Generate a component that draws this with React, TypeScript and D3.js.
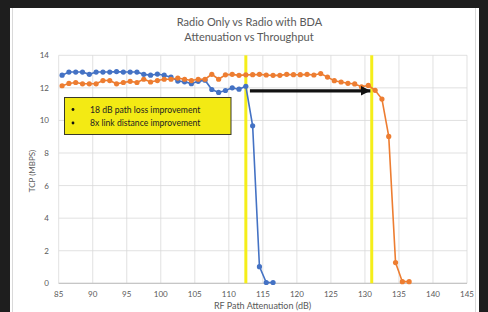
import React, { useEffect, useRef } from 'react';
import * as d3 from 'd3';

// attenuation steps (dB) used by both runs
const attenuation = [
  85.5, 86.5, 87.5, 88.5, 89.5, 90.5, 91.5, 92.5, 93.5, 94.5, 95.5, 96.5, 97.5,
  98.5, 99.5, 100.5, 101.5, 102.5, 103.5, 104.5, 105.5, 106.5, 107.5, 108.5,
  109.5, 110.5, 111.5, 112.5, 113.5, 114.5, 115.5, 116.5, 117.5, 118.5, 119.5,
  120.5, 121.5, 122.5, 123.5, 124.5, 125.5, 126.5, 127.5, 128.5, 129.5, 130.5,
  131.5, 132.5, 133.5, 134.5, 135.5, 136.5,
];

const radioOnly = [
  12.78, 12.97, 12.97, 12.97, 12.83, 12.97, 12.97, 12.97, 13.0, 12.97, 12.97,
  12.97, 12.83, 12.78, 12.85, 12.78, 12.66, 12.42, 12.37, 12.26, 12.4, 12.47,
  11.9, 11.72, 11.84, 12.0, 11.92, 12.1, 9.67, 1.02, 0.05, 0.05,
];

const radioWithBda = [
  12.13, 12.27, 12.33, 12.25, 12.25, 12.25, 12.45, 12.45, 12.25, 12.33, 12.4,
  12.33, 12.53, 12.36, 12.45, 12.53, 12.53, 12.6, 12.53, 12.45, 12.53, 12.53,
  12.83, 12.53, 12.8, 12.83, 12.77, 12.8, 12.81, 12.83, 12.79, 12.77, 12.77,
  12.83, 12.81, 12.81, 12.83, 12.79, 12.88, 12.66, 12.44, 12.36, 12.28, 12.24,
  12.07, 12.15, 11.85, 11.31, 9.02, 1.27, 0.1, 0.1,
];

const xTicks = [85, 90, 95, 100, 105, 110, 115, 120, 125, 130, 135, 140, 145];
const yTicks = [0, 2, 4, 6, 8, 10, 12, 14];

const markerLines = [112.5, 131];
const arrowSpan = [113.1, 130.8];
const arrowLevel = 11.82;

const notes = ['18 dB path loss improvement', '8x link distance improvement'];

const WIDTH = 488;
const HEIGHT = 312;
const FONT = 'Lato, "Open Sans", sans-serif';

const Chart: React.FC = () => {
  const svgRef = useRef<SVGSVGElement>(null);

  useEffect(() => {
    if (!svgRef.current) return;
    const svg = d3.select(svgRef.current);
    svg.selectAll('*').remove();

    // frame
    svg.append('rect').attr('width', WIDTH).attr('height', HEIGHT).attr('fill', '#ffffff');
    svg.append('rect').attr('width', WIDTH).attr('height', 8).attr('fill', '#1e1e1e');
    svg.append('rect').attr('width', 10).attr('height', HEIGHT).attr('fill', '#1e1e1e');
    svg.append('rect').attr('x', 479).attr('width', 9).attr('height', HEIGHT).attr('fill', '#1e1e1e');
    svg.append('line').attr('x1', 12.5).attr('x2', 12.5).attr('y1', 8).attr('y2', HEIGHT)
      .attr('stroke', '#d9d9d9');
    svg.append('line').attr('x1', 475.5).attr('x2', 475.5).attr('y1', 8).attr('y2', HEIGHT)
      .attr('stroke', '#d9d9d9');

    const x = d3.scaleLinear().domain([85, 145]).range([58.7, 467]);
    const y = d3.scaleLinear().domain([0, 14]).range([283.3, 55.3]);

    // titles
    const title = svg.append('g').attr('font-family', FONT).attr('fill', '#595959')
      .attr('text-anchor', 'middle').attr('font-size', 11);
    title.append('text').attr('x', 249.5).attr('y', 26).text('Radio Only vs Radio with BDA');
    title.append('text').attr('x', 249).attr('y', 41).text('Attenuation vs Throughput');

    // grid
    const grid = svg.append('g').attr('stroke', '#d9d9d9').attr('stroke-width', 0.8);
    grid.selectAll('.gy').data(yTicks).enter().append('line')
      .attr('x1', x(85)).attr('x2', x(145))
      .attr('y1', (d) => y(d)).attr('y2', (d) => y(d));
    grid.selectAll('.gx').data(xTicks).enter().append('line')
      .attr('x1', (d) => x(d)).attr('x2', (d) => x(d))
      .attr('y1', y(0)).attr('y2', y(14));
    svg.append('line').attr('x1', x(85)).attr('x2', x(145)).attr('y1', y(0)).attr('y2', y(0))
      .attr('stroke', '#bfbfbf');

    // tick labels
    const labels = svg.append('g').attr('font-family', FONT).attr('fill', '#595959').attr('font-size', 8);
    labels.selectAll('.tx').data(xTicks).enter().append('text')
      .attr('x', (d) => x(d)).attr('y', 297).attr('text-anchor', 'middle').text((d) => d);
    labels.selectAll('.ty').data(yTicks).enter().append('text')
      .attr('x', 49).attr('y', (d) => y(d) + 3).attr('text-anchor', 'end').text((d) => d);

    labels.append('text').attr('transform', 'translate(35,171) rotate(-90)')
      .attr('text-anchor', 'middle').text('TCP (MBPS)');
    labels.append('text').attr('x', 262.5).attr('y', 309).attr('text-anchor', 'middle')
      .attr('font-size', 9).text('RF Path Attenuation (dB)');

    // yellow marker lines
    svg.selectAll('.mark').data(markerLines).enter().append('line')
      .attr('x1', (d) => x(d)).attr('x2', (d) => x(d))
      .attr('y1', y(0)).attr('y2', y(14))
      .attr('stroke', '#f5ee1a').attr('stroke-width', 3);

    // series
    const series = [
      { values: radioOnly, color: '#4472c4' },
      { values: radioWithBda, color: '#ed7d31' },
    ];
    series.forEach((s) => {
      const pts = s.values.map((v, i) => [attenuation[i], v] as [number, number]);
      const line = d3.line<[number, number]>().x((d) => x(d[0])).y((d) => y(d[1]));
      svg.append('path').datum(pts).attr('d', line).attr('fill', 'none')
        .attr('stroke', s.color).attr('stroke-width', 1.6);
      svg.append('g').selectAll('circle').data(pts).enter().append('circle')
        .attr('cx', (d) => x(d[0])).attr('cy', (d) => y(d[1])).attr('r', 2.6)
        .attr('fill', s.color);
    });

    // arrow
    svg.append('defs').append('marker').attr('id', 'head')
      .attr('viewBox', '0 0 10 10').attr('refX', 10).attr('refY', 5)
      .attr('markerWidth', 3).attr('markerHeight', 3).attr('orient', 'auto')
      .attr('markerUnits', 'strokeWidth')
      .append('path').attr('d', 'M0,0 L10,5 L0,10 Z').attr('fill', '#111');
    svg.append('line')
      .attr('x1', x(arrowSpan[0])).attr('x2', x(arrowSpan[1]))
      .attr('y1', y(arrowLevel)).attr('y2', y(arrowLevel))
      .attr('stroke', '#111').attr('stroke-width', 3.2).attr('marker-end', 'url(#head)');

    // note box
    const box = svg.append('g');
    box.append('rect').attr('x', 64.5).attr('y', 97.5).attr('width', 166.5).attr('height', 37)
      .attr('fill', '#f3ea14').attr('stroke', '#3a3a2a').attr('stroke-width', 1);
    box.selectAll('circle').data(notes).enter().append('circle')
      .attr('cx', 73).attr('cy', (_d, i) => 109.5 + i * 13.5).attr('r', 1.4).attr('fill', '#111');
    box.selectAll('text').data(notes).enter().append('text')
      .attr('x', 90).attr('y', (_d, i) => 112.5 + i * 13.5)
      .attr('font-family', FONT).attr('font-size', 8.6).attr('fill', '#222')
      .text((d) => d);
  }, []);

  return <svg ref={svgRef} width={WIDTH} height={HEIGHT} style={{ position: 'absolute', left: 0, top: 0 }} />;
};

export default function App() {
  return <Chart />;
}
